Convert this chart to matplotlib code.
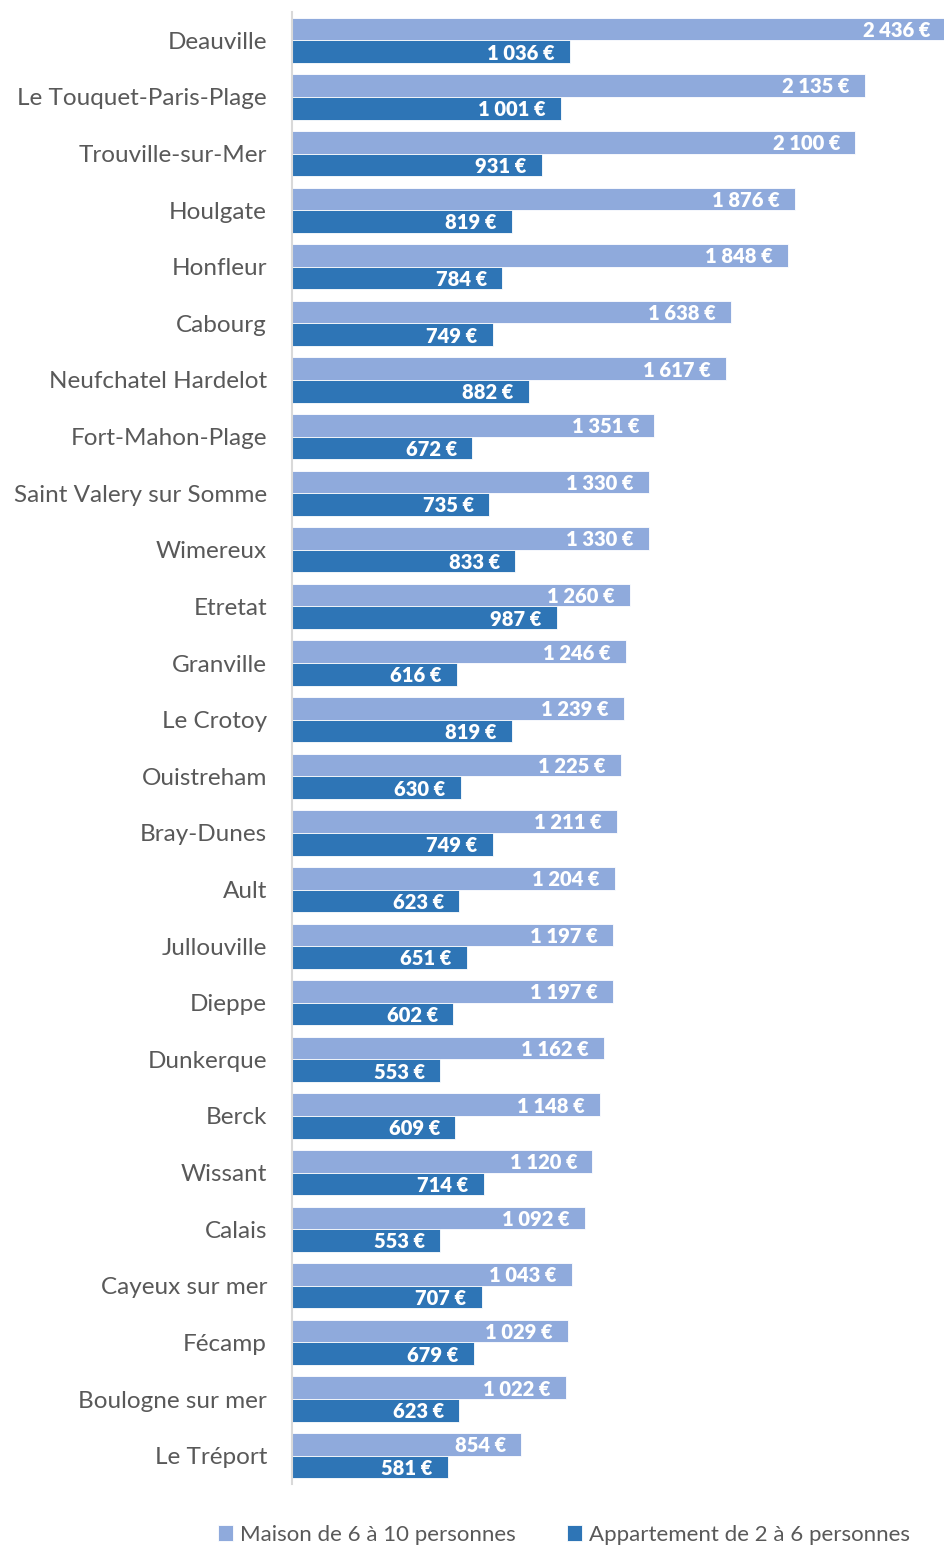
import matplotlib
matplotlib.use("Agg")
import matplotlib.pyplot as plt
import numpy as np

cities = ["Deauville", "Le Touquet-Paris-Plage", "Trouville-sur-Mer", "Houlgate", "Honfleur",
          "Cabourg", "Neufchatel Hardelot", "Fort-Mahon-Plage", "Saint Valery sur Somme",
          "Wimereux", "Etretat", "Granville", "Le Crotoy", "Ouistreham", "Bray-Dunes", "Ault",
          "Jullouville", "Dieppe", "Dunkerque", "Berck", "Wissant", "Calais", "Cayeux sur mer",
          "Fécamp", "Boulogne sur mer", "Le Tréport"]
maison = [2436, 2135, 2100, 1876, 1848, 1638, 1617, 1351, 1330, 1330, 1260, 1246, 1239,
          1225, 1211, 1204, 1197, 1197, 1162, 1148, 1120, 1092, 1043, 1029, 1022, 854]
appart = [1036, 1001, 931, 819, 784, 749, 882, 672, 735, 833, 987, 616, 819, 630, 749,
          623, 651, 602, 553, 609, 714, 553, 707, 679, 623, 581]
series_labels = ["Maison de 6 à 10 personnes", "Appartement de 2 à 6 personnes"]

light = "#8FAADC"
dark = "#2E75B6"
txt = "#595959"
font = "Lato"

fig = plt.figure(figsize=(9.45, 15.46), dpi=100)
ax = fig.add_axes([292/945, 1 - 1484/1546, 654/945, (1484 - 12)/1546])

y = np.arange(len(cities))
h = 0.4
b1 = ax.barh(y - h/2, maison, height=h, color=light, edgecolor="white", linewidth=0.6, label=series_labels[0])
b2 = ax.barh(y + h/2, appart, height=h, color=dark, edgecolor="white", linewidth=0.6, label=series_labels[1])

def fmt(v):
    return f"{v:,}".replace(",", " ") + " €"

for bars, vals in ((b1, maison), (b2, appart)):
    for rect, v in zip(bars, vals):
        ax.annotate(fmt(v), (v, rect.get_y() + rect.get_height()/2), xytext=(-11, -1),
                    textcoords="offset points", ha="right", va="center", color="white",
                    fontsize=14.5, fontweight="heavy", family=font)

ax.set_xlim(0, 2438)
ax.set_ylim(len(cities) - 0.5, -0.5)
ax.set_yticks(y)
ax.set_yticklabels(cities, fontsize=17.5, color=txt, family=font)
ax.tick_params(axis="y", length=0, pad=18)
ax.set_xticks([])
for s in ("top", "right", "bottom"):
    ax.spines[s].set_visible(False)
ax.spines["left"].set_color("#D9D9D9")
ax.spines["left"].set_linewidth(1.5)

leg = fig.legend(handles=[b1, b2], labels=series_labels, loc="center", bbox_to_anchor=(564/945, 1 - 1535/1546),
                 ncol=2, frameon=False, handlelength=0.7, handleheight=0.7,
                 handletextpad=0.3, columnspacing=2.3, prop={"family": font, "size": 16})
for t in leg.get_texts():
    t.set_color(txt)

fig.savefig("out.png", dpi=100)
